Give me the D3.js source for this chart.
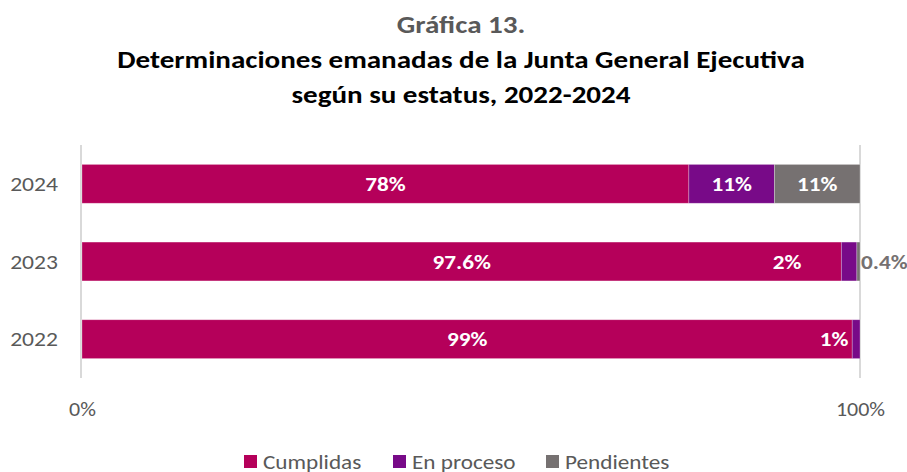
<!DOCTYPE html>
<html>
<head>
<meta charset="utf-8">
<script src="https://cdn.jsdelivr.net/npm/d3@7"></script>
<style>
html,body{margin:0;padding:0;background:#fff;}
svg{display:block;}
</style>
</head>
<body>
<svg id="chart" width="907" height="472"></svg>
<script>
const years = ["2024", "2023", "2022"];
const seriesNames = ["Cumplidas", "En proceso", "Pendientes"];
const cumplidas = [78, 97.6, 99];
const enProceso = [11, 2, 1];
const pendientes = [11, 0.4, 0];
const cumplidasLabels = ["78%", "97.6%", "99%"];
const enProcesoLabels = ["11%", "2%", "1%"];
const pendientesLabels = ["11%", "0.4%", ""];
const xTicks = [0, 100];
const titleLines = ["Gráfica 13.", "Determinaciones emanadas de la Junta General Ejecutiva", "según su estatus, 2022-2024"];

const colors = ["#B5005A", "#780A88", "#767171"];
const FONT = "Carlito, Calibri, Lato, sans-serif";

const svg = d3.select("#chart").style("font-family", FONT);

// widen glyphs to approximate Calibri metrics
function stretch(sel, k) {
  sel.each(function() {
    const w = this.getComputedTextLength();
    this.setAttribute("textLength", w * k);
    this.setAttribute("lengthAdjust", "spacingAndGlyphs");
  });
}

const x = d3.scaleLinear().domain([0, 100]).range([82, 860]);
const y = d3.scaleBand().domain(years).range([145, 378]).paddingInner(0.5).paddingOuter(0.25);

// gridlines
svg.append("g").selectAll("line").data(xTicks).join("line")
  .attr("x1", d => d === 0 ? x(d) - 1 : x(d)).attr("x2", d => d === 0 ? x(d) - 1 : x(d))
  .attr("y1", 145).attr("y2", 378)
  .attr("stroke", "#D9D9D9").attr("stroke-width", 2);

// stack
const rows = years.map((yr, i) => ({year: yr, "Cumplidas": cumplidas[i], "En proceso": enProceso[i], "Pendientes": pendientes[i], i}));
const stacked = d3.stack().keys(seriesNames)(rows);
const labelsBySeries = [cumplidasLabels, enProcesoLabels, pendientesLabels];

stacked.forEach((s, si) => {
  svg.append("g").selectAll("rect").data(s.filter(d => d[1] - d[0] > 0)).join("rect")
    .attr("x", d => x(d[0]))
    .attr("y", d => y(d.data.year))
    .attr("width", d => x(d[1]) - x(d[0]))
    .attr("height", y.bandwidth())
    .attr("fill", colors[si])
    .attr("stroke", "rgba(255,255,255,0.35)")
    .attr("stroke-width", 0.75);
});

// label placement tweaks for tiny segments
const labelDx = {"En proceso|2023": -62, "En proceso|2022": -22};

stacked.forEach((s, si) => {
  s.forEach(d => {
    const txt = labelsBySeries[si][d.data.i];
    if (!txt) return;
    const key = seriesNames[si] + "|" + d.data.year;
    let cx = (x(d[0]) + x(d[1])) / 2;
    let anchor = "middle";
    let fill = "#FFFFFF";
    if (seriesNames[si] === "Pendientes" && d[1] - d[0] < 3) {
      cx = x(d[1]) + 1; anchor = "start"; fill = "#767171";
    }
    if (labelDx[key] !== undefined) cx += labelDx[key];
    svg.append("text")
      .attr("x", cx)
      .attr("y", y(d.data.year) + y.bandwidth() / 2)
      .attr("dy", "0.35em")
      .attr("text-anchor", anchor)
      .attr("fill", fill)
      .attr("font-weight", "bold")
      .attr("font-size", 20)
      .text(txt)
      .call(stretch, 1.16);
  });
});

// y axis labels
svg.append("g").selectAll("text").data(years).join("text")
  .attr("x", 58).attr("y", d => y(d) + y.bandwidth() / 2)
  .attr("dy", "0.35em").attr("text-anchor", "end")
  .attr("fill", "#595959").attr("font-size", 20)
  .text(d => d)
  .call(stretch, 1.18);

// x axis ticks
const xAxis = d3.axisBottom(x).tickValues(xTicks).tickFormat(d => d + "%").tickSize(0).tickPadding(0);
const gx = svg.append("g").attr("transform", "translate(0,403)").call(xAxis);
gx.select(".domain").remove();
gx.selectAll("text").attr("fill", "#595959").attr("font-size", 20).attr("font-family", FONT).attr("dy", "0.35em").attr("y", 6)
  .call(stretch, 1.1);

// title
const titleY = [33, 68, 103];
svg.append("g").selectAll("text").data(titleLines).join("text")
  .attr("x", 461).attr("y", (d, i) => titleY[i])
  .attr("text-anchor", "middle").attr("font-weight", "bold").attr("font-size", 24)
  .attr("fill", (d, i) => i === 0 ? "#595959" : "#000000")
  .text(d => d)
  .call(stretch, 1.21);

// legend
const legendX = [244, 393, 546];
const lg = svg.append("g").selectAll("g").data(seriesNames).join("g")
  .attr("transform", (d, i) => `translate(${legendX[i]},455)`);
lg.append("rect").attr("width", 13).attr("height", 13).attr("fill", (d, i) => colors[i]);
lg.append("text").attr("x", 19).attr("y", 6.5).attr("dy", "0.35em")
  .attr("fill", "#595959").attr("font-size", 20).text(d => d)
  .call(stretch, 1.16);
</script>
</body>
</html>
